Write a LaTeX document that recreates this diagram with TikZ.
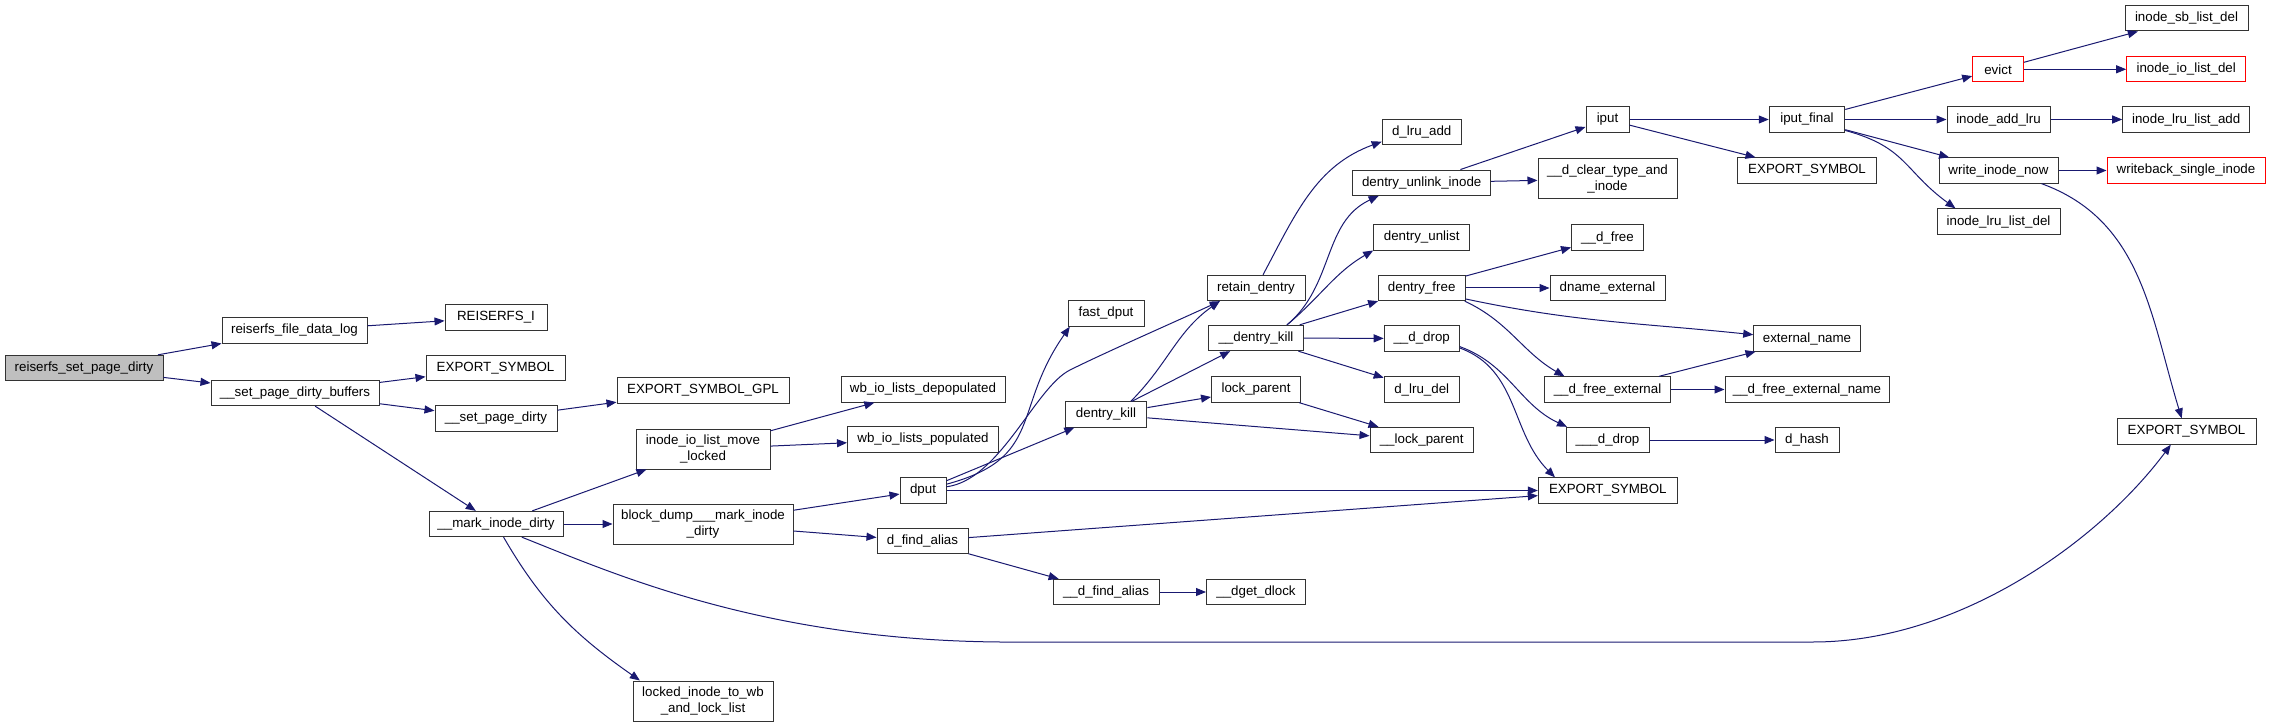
\documentclass[tikz,border=0pt]{standalone}
\usepackage{fontspec}
\setmainfont{Liberation Sans}
\usepackage{xcolor}
\usepackage{tikz}
\usetikzlibrary{arrows.meta}
\definecolor{callblue}{HTML}{191970}
\definecolor{rootgray}{HTML}{BFBFBF}
\definecolor{boxline}{HTML}{333333}
\definecolor{trunc}{HTML}{FF0000}
\tikzset{
  fn/.style    ={rectangle,draw=boxline,line width=0.75pt,fill=white,inner sep=0pt,
                 minimum height=19pt,align=center,font=\fontsize{10}{11.5}\selectfont},
  fntwo/.style ={fn,minimum height=30pt},
  rootfn/.style={fn,fill=rootgray},
  cutfn/.style ={fn,draw=trunc},
  call/.style  ={-{Triangle[length=7.5pt,width=6pt]},line width=0.75pt,draw=callblue}
}
\begin{document}
\begin{tikzpicture}[x=0.75pt,y=-0.75pt]
\useasboundingbox (0,0) rectangle (2271,727);
\node[rootfn,minimum width=118.5pt] (root) at (84,368) {reiserfs\_set\_page\_dirty};
\node[fn,minimum width=108.75pt] (fdl) at (294.5,330.5) {reiserfs\_file\_data\_log};
\node[fn,minimum width=126pt] (spdb) at (295,393) {\_\_set\_page\_dirty\_buffers};
\node[fn,minimum width=76.5pt] (rI) at (496,317.5) {REISERFS\_I};
\node[fn,minimum width=104.25pt] (exa) at (495.5,368) {EXPORT\_SYMBOL};
\node[fn,minimum width=91.5pt] (spd) at (496,418.5) {\_\_set\_page\_dirty};
\node[fn,minimum width=100.5pt] (mid) at (496,524) {\_\_mark\_inode\_dirty};
\node[fn,minimum width=129pt] (gpl) at (703,390.5) {EXPORT\_SYMBOL\_GPL};
\node[fntwo,minimum width=100.5pt] (iolm) at (703,449) {inode\_io\_list\_move\\\_locked};
\node[fntwo,minimum width=135pt] (bdm) at (703,524) {block\_dump\_\_\_mark\_inode\\\_dirty};
\node[fntwo,minimum width=105pt] (lit) at (703,701) {locked\_inode\_to\_wb\\\_and\_lock\_list};
\node[fn,minimum width=123pt] (wbd) at (923,389.5) {wb\_io\_lists\_depopulated};
\node[fn,minimum width=113.25pt] (wbp) at (923,439.5) {wb\_io\_lists\_populated};
\node[fn,minimum width=34.5pt] (dput) at (923,490.5) {dput};
\node[fn,minimum width=68.25pt] (dfa) at (922.5,541) {d\_find\_alias};
\node[fn,minimum width=57pt] (fdp) at (1106,313.5) {fast\_dput};
\node[fn,minimum width=61.3pt] (dk) at (1106,414.5) {dentry\_kill};
\node[fn,minimum width=79.5pt] (udfa) at (1106,592) {\_\_d\_find\_alias};
\node[fn,minimum width=73.5pt] (rd) at (1256,288) {retain\_dentry};
\node[fn,minimum width=71.25pt] (udk) at (1256,338) {\_\_dentry\_kill};
\node[fn,minimum width=66.75pt] (lp) at (1256,389.5) {lock\_parent};
\node[fn,minimum width=74.25pt] (dgd) at (1256,592) {\_\_dget\_dlock};
\node[fn,minimum width=59.25pt] (dla) at (1421.7,131.7) {d\_lru\_add};
\node[fn,minimum width=103.5pt] (dui) at (1421.7,182.7) {dentry\_unlink\_inode};
\node[fn,minimum width=72pt] (dul) at (1421.7,237.5) {dentry\_unlist};
\node[fn,minimum width=65.25pt] (dfr) at (1421.7,288) {dentry\_free};
\node[fn,minimum width=56.25pt] (udd) at (1421.7,338.5) {\_\_d\_drop};
\node[fn,minimum width=56.25pt] (dld) at (1421.7,389.5) {d\_lru\_del};
\node[fn,minimum width=77.5pt] (ulp) at (1421.7,440) {\_\_lock\_parent};
\node[fn,minimum width=32.25pt] (iput) at (1607.5,119.5) {iput};
\node[fntwo,minimum width=104.25pt] (dcti) at (1607.5,179) {\_\_d\_clear\_type\_and\\\_inode};
\node[fn,minimum width=54pt] (udf) at (1607.5,237.5) {\_\_d\_free};
\node[fn,minimum width=86.25pt] (dne) at (1607.5,288) {dname\_external};
\node[fn,minimum width=94.5pt] (udfe) at (1607.5,389.5) {\_\_d\_free\_external};
\node[fn,minimum width=62.25pt] (uudd) at (1607.5,440) {\_\_\_d\_drop};
\node[fn,minimum width=104.25pt] (exb) at (1607.8,490.5) {EXPORT\_SYMBOL};
\node[fn,minimum width=56.6pt] (ipf) at (1807,119.5) {iput\_final};
\node[fn,minimum width=104.25pt] (exc) at (1807,170.5) {EXPORT\_SYMBOL};
\node[fn,minimum width=79.9pt] (exn) at (1807,338.5) {external\_name};
\node[fn,minimum width=123pt] (udfen) at (1807,389.5) {\_\_d\_free\_external\_name};
\node[fn,minimum width=48pt] (dh) at (1807,440) {d\_hash};
\node[cutfn,minimum width=38pt] (ev) at (1998,69.3) {evict};
\node[fn,minimum width=77.25pt] (ial) at (1998.5,119.5) {inode\_add\_lru};
\node[fn,minimum width=89.25pt] (win) at (1998.5,170.5) {write\_inode\_now};
\node[fn,minimum width=92.25pt] (illd) at (1998.5,221.5) {inode\_lru\_list\_del};
\node[fn,minimum width=92.25pt] (isld) at (2186.5,18.3) {inode\_sb\_list\_del};
\node[cutfn,minimum width=89.25pt] (iold) at (2186.2,69.3) {inode\_io\_list\_del};
\node[fn,minimum width=95.25pt] (illa) at (2186.2,119.5) {inode\_lru\_list\_add};
\node[cutfn,minimum width=118.5pt] (wsi) at (2186,170.5) {writeback\_single\_inode};
\node[fn,minimum width=104.25pt] (exd) at (2186.5,431.5) {EXPORT\_SYMBOL};
\draw[call] (root) -- (fdl);
\draw[call] (root) -- (spdb);
\draw[call] (fdl) -- (rI);
\draw[call] (spdb) -- (exa);
\draw[call] (spdb) -- (spd);
\draw[call] (spdb) -- (mid);
\draw[call] (spd) -- (gpl);
\draw[call] (mid) -- (iolm);
\draw[call] (mid) -- (bdm);
\draw[call] (mid) to[out=-60,in=145] (lit.162);
\draw[call] (mid.-27) .. controls (610,572) and (760,640) .. (1000,642) -- (1813,642)
  .. controls (1960,642) and (2100,540) .. (exd.-140);
\draw[call] (iolm) -- (wbd);
\draw[call] (iolm) -- (wbp);
\draw[call] (bdm) -- (dput);
\draw[call] (bdm) -- (dfa);
\draw[call] (dput.15) to[out=15,in=235,looseness=1.3] (fdp.-160);
\draw[call] (dput.9) .. controls (1000,480) and (1035,387.5) .. (1070,370)
  .. controls (1105,352.5) and (1180.7,319.3) .. (rd.-160);
\draw[call] (dput) -- (dk);
\draw[call] (dput) -- (exb);
\draw[call] (dfa) -- (udfa);
\draw[call] (dfa) -- (exb);
\draw[call] (udfa) -- (dgd);
\draw[call] (dk.28) to[out=45,in=215] (rd.-160);
\draw[call] (dk) -- (udk);
\draw[call] (dk) -- (lp);
\draw[call] (dk) -- (ulp);
\draw[call] (lp) -- (ulp);
\draw[call] (rd) to[out=62,in=200] (dla.-166);
\draw[call] (udk.23) to[out=40,in=205] (dui.-163);
\draw[call] (udk.23) to[out=40,in=210] (dul.-165);
\draw[call] (udk) -- (dfr);
\draw[call] (udk) -- (udd);
\draw[call] (udk) -- (dld);
\draw[call] (dui) -- (iput);
\draw[call] (dui) -- (dcti);
\draw[call] (dfr) -- (udf);
\draw[call] (dfr) -- (dne);
\draw[call] (dfr.-14) to[out=-12,in=174] (exn.176);
\draw[call] (dfr.-17) to[out=-25,in=150] (udfe.163);
\draw[call] (udfe) -- (exn);
\draw[call] (udfe) -- (udfen);
\draw[call] (udd.-12) to[out=-20,in=155] (uudd.162);
\draw[call] (udd.-14) to[out=-20,in=135] (exb.166);
\draw[call] (uudd) -- (dh);
\draw[call] (iput) -- (ipf);
\draw[call] (iput) -- (exc);
\draw[call] (ipf) -- (ev);
\draw[call] (ipf) -- (ial);
\draw[call] (ipf) -- (win);
\draw[call] (ipf.-16) to[out=-15,in=144,looseness=1.2] (illd.163);
\draw[call] (ev) -- (isld);
\draw[call] (ev) -- (iold);
\draw[call] (ial) -- (illa);
\draw[call] (win) -- (wsi);
\draw[call] (win.-17) to[out=-20,in=107] (exd.110);
\end{tikzpicture}
\end{document}
